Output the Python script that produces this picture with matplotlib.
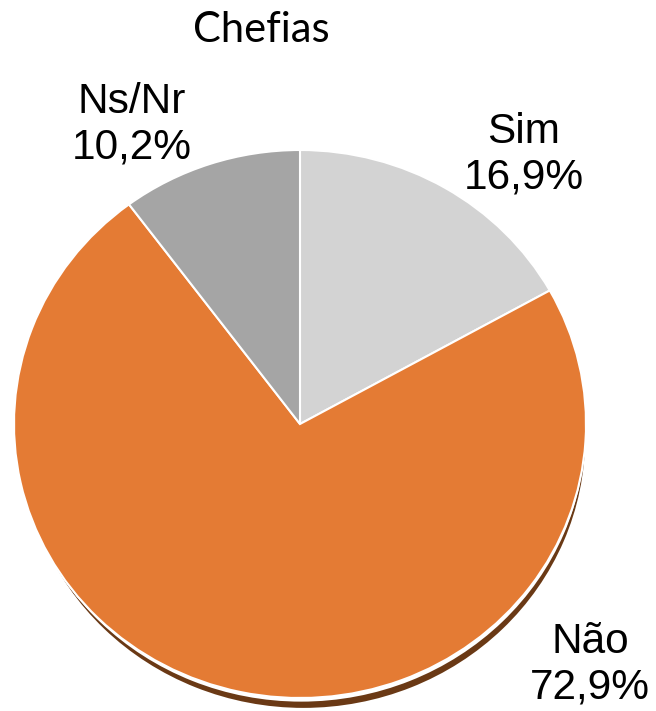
import matplotlib
matplotlib.use("Agg")
import matplotlib.pyplot as plt

title = "Chefias"
categories = ["Sim", "Não", "Ns/Nr"]
values = [16.9, 72.9, 10.2]
value_labels = ["16,9%", "72,9%", "10,2%"]
colors = ["#d3d3d3", "#e47b34", "#a5a5a5"]

W, H = 656, 711
fig = plt.figure(figsize=(W / 100, H / 100), dpi=100)
ax = fig.add_axes([0, 0, 1, 1])

cx, cy = 300, 424      # pixel centre
rx, ry = 286, 274      # pixel radii

# shadow (visible mainly along the bottom edge)
ax.pie([1], colors=["#6a3915"], radius=0.985, center=(0.012, -14 / ry),
       wedgeprops=dict(linewidth=0), frame=False)
ax.pie([1], colors=["white"], radius=0.995, center=(0.004, -5 / ry),
       wedgeprops=dict(linewidth=0), frame=False)
ax.pie(values, colors=colors, startangle=90, counterclock=False, radius=1.0,
       center=(0, 0), wedgeprops=dict(edgecolor="white", linewidth=1.5),
       frame=False)
ax.set_xlim(-cx / rx, (W - cx) / rx)
ax.set_ylim((cy - H) / ry, cy / ry)
ax.set_aspect("auto")
ax.axis("off")

def px(x, y):
    return x / W, 1 - y / H

fig.text(*px(261, 30), title, ha="center", va="center", fontsize=30,
         family="Lato", color="black")

label_pos = [(524, 155), (590, 665), (132, 125)]
for cat, vl, (lx, ly) in zip(categories, value_labels, label_pos):
    fig.text(*px(lx, ly), f"{cat}\n{vl}", ha="center", va="center",
             fontsize=30.5, family="Liberation Sans", color="black",
             linespacing=1.18)

fig.savefig("out.png", dpi=100)
